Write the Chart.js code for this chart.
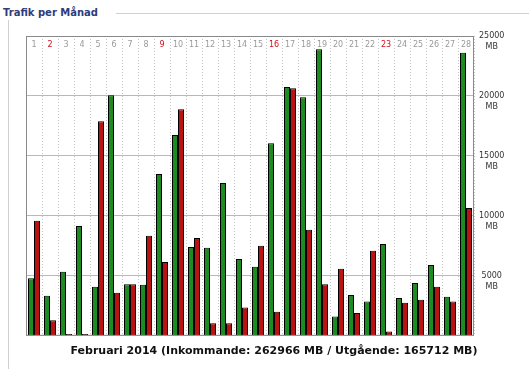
<!DOCTYPE html>
<html>
<head>
<meta charset="utf-8">
<script src="https://cdn.jsdelivr.net/npm/chart.js@4.4.1/dist/chart.umd.min.js"></script>
<style>
  html, body { margin: 0; padding: 0; background: #fff; width: 529px; height: 369px; overflow: hidden; }
  #legend { position: absolute; left: 3px; top: 7px; font: bold 10px 'DejaVu Sans', sans-serif; color: #2d3d7b; }
  #hline  { position: absolute; left: 116px; top: 13px; width: 413px; border-top: 1px solid #d0d0d0; }
  #vline  { position: absolute; left: 8px; top: 20px; height: 349px; border-left: 1px solid #d0d0d0; }
  #wrap   { position: absolute; left: 16px; top: 20px; width: 506px; height: 349px; }
</style>
</head>
<body>
<div id="legend">Trafik per Månad</div>
<div id="hline"></div>
<div id="vline"></div>
<div id="wrap"><canvas id="traffic" width="506" height="349"></canvas></div>

<script>
// ── Data (MB per day, Februari 2014) ─────────────────────────────────────────
const DAYS     = ['1','2','3','4','5','6','7','8','9','10','11','12','13','14',
                  '15','16','17','18','19','20','21','22','23','24','25','26','27','28'];
const SUNDAYS  = ['2','9','16','23'];
const INCOMING = [4800, 3350, 5350, 9150, 4100, 20050, 4300, 4250, 13500, 16750, 7400, 7350, 12750, 6400,
                  5750, 16050, 20750, 19900, 23900, 1600, 3400, 2850, 7650, 3150, 4400, 5900, 3250, 23600];
const OUTGOING = [9600, 1300, 150, 150, 17900, 3600, 4300, 8350, 6150, 18900, 8150, 1050, 1050, 2350,
                  7500, 2000, 20650, 8850, 4300, 5600, 1900, 7100, 350, 2750, 3000, 4100, 2850, 10650];
const Y_MAX    = 25000;
const Y_STEP   = 5000;
const UNIT     = 'MB';
const CAPTION  = 'Februari 2014 (Inkommande: 262966 MB / Utgående: 165712 MB)';

// ── Plot frame ───────────────────────────────────────────────────────────────
const framePlugin = {
  id: 'frame',
  afterDatasetsDraw(chart) {
    const { ctx, chartArea: a } = chart;
    ctx.save();
    ctx.strokeStyle = '#8a8a8a';
    ctx.lineWidth   = 1;
    ctx.strokeRect(a.left + 0.5, a.top + 0.5, a.right - a.left - 1, a.bottom - a.top - 1);
    ctx.restore();
  },
};

new Chart(document.getElementById('traffic'), {
  type: 'bar',
  data: {
    labels: DAYS,
    datasets: [
      {
        label:           'Inkommande',
        data:            INCOMING,
        backgroundColor: '#1e8a22',
        borderColor:     '#000',
        borderWidth:     1,
      },
      {
        label:           'Utgående',
        data:            OUTGOING,
        backgroundColor: '#bb1212',
        borderColor:     '#000',
        borderWidth:     1,
      },
    ],
  },
  options: {
    responsive:         false,
    devicePixelRatio:   1,
    animation:          false,
    barPercentage:      1,
    categoryPercentage: 0.75,
    layout: { padding: { left: 10, right: 0, top: 0, bottom: 0 } },
    scales: {
      x: {
        position: 'top',
        afterFit(s) { s.height = 16; s.paddingLeft = 0; s.paddingRight = 0; },
        grid:   { offset: true, color: '#c4c4c4', lineWidth: 1, drawTicks: false },
        border: { display: false, dash: [1, 2] },
        ticks: {
          autoSkip:    false,
          maxRotation: 0,
          mirror:      true,   // day numbers sit inside the plot, under the top edge
          padding:     4,
          font:        { family: "'DejaVu Sans', sans-serif", size: 8 },
          color:       ctx => SUNDAYS.includes(DAYS[ctx.index]) ? '#d0101c' : '#9a9a9a',
        },
      },
      y: {
        position: 'right',
        min:      0,
        max:      Y_MAX,
        afterFit(s) { s.width = 48; s.paddingTop = 0; s.paddingBottom = 0; },
        grid:   { color: '#b8b8b8', lineWidth: 1, drawTicks: false },
        border: { display: false },
        ticks: {
          stepSize:   Y_STEP,
          padding:    5,
          crossAlign: 'center',
          color:      '#333',
          font:       { family: "'DejaVu Sans', sans-serif", size: 8, lineHeight: 1.35 },
          callback:   v => v === 0 ? '' : ['', String(v), UNIT],
        },
      },
    },
    plugins: {
      legend:  { display: false },
      tooltip: { enabled: false },
      title: {
        display:  true,
        position: 'bottom',
        text:     CAPTION,
        color:    '#111',
        font:     { family: "'DejaVu Sans', sans-serif", size: 11, weight: 'bold', lineHeight: 1.2 },
        padding:  { top: 9, bottom: 11 },
      },
    },
  },
  plugins: [framePlugin],
});
</script>
</body>
</html>
